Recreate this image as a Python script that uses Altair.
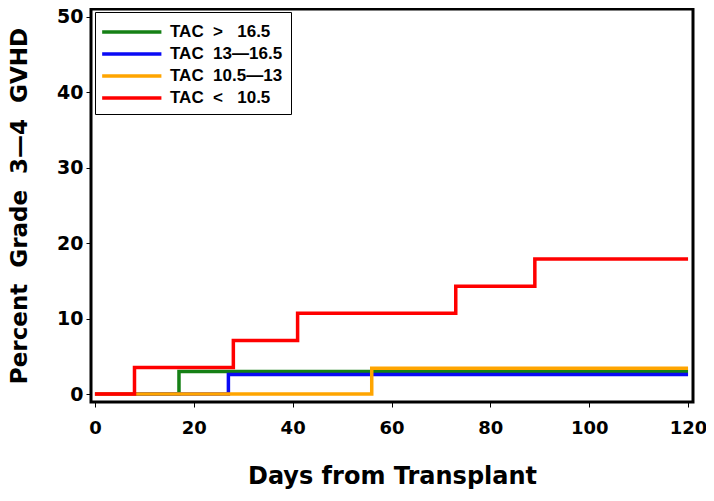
import altair as alt
import pandas as pd

NB = "\u00a0"

series_names = [
    f"TAC{NB}{NB}>{NB}{NB}{NB}16.5",
    f"TAC{NB}{NB}13\u201416.5",
    f"TAC{NB}{NB}10.5\u201413",
    f"TAC{NB}{NB}<{NB}{NB}{NB}10.5",
]
series_colors = ["#158015", "#0a0af5", "#ffa500", "#ff0000"]

green_days = [0, 17, 120]
green_pct = [0, 3.0, 3.0]
blue_days = [0, 27, 120]
blue_pct = [0, 2.6, 2.6]
orange_days = [0, 56, 120]
orange_pct = [0, 3.4, 3.4]
red_days = [0, 8, 28, 41, 73, 89, 120]
red_pct = [0, 3.5, 7.1, 10.7, 14.3, 17.9, 17.9]

x_ticks = [0, 20, 40, 60, 80, 100, 120]
y_ticks = [0, 10, 20, 30, 40, 50]

rows = []
for name, days, pct in zip(series_names,
                           [green_days, blue_days, orange_days, red_days],
                           [green_pct, blue_pct, orange_pct, red_pct]):
    for d, p in zip(days, pct):
        rows.append({"group": name, "day": d, "pct": p})
df = pd.DataFrame(rows)

FONT = "DejaVu Sans"

x_enc = alt.X("day:Q",
              scale=alt.Scale(domain=[-0.8, 121], nice=False, zero=False),
              axis=alt.Axis(values=x_ticks, title="Days from Transplant",
                            labelFontSize=18, labelPadding=12,
                            titleFontSize=24, titlePadding=27))
y_enc = alt.Y("pct:Q",
              scale=alt.Scale(domain=[-1.06, 51.06], nice=False, zero=False),
              axis=alt.Axis(values=y_ticks, title=f"Percent{NB}{NB}Grade{NB}{NB}3\u20144{NB}{NB}GVHD",
                            labelFontSize=19, labelPadding=3,
                            titleFontSize=23, titlePadding=25))
# custom path: a flat stroke, drawn to the right of the symbol's own box
color_enc = alt.Color("group:N",
                      scale=alt.Scale(domain=series_names, range=series_colors),
                      legend=alt.Legend(title=None, orient="none", legendX=4, legendY=3,
                                        symbolType="M-1.3,0H4.7", symbolSize=390,
                                        symbolStrokeWidth=3.5, rowPadding=2,
                                        labelFont="Liberation Sans", labelFontSize=17,
                                        labelFontWeight="bold", labelColor="black",
                                        labelOffset=43, padding=8,
                                        strokeColor="black", fillColor="white"))

layers = []
for name in series_names:
    layers.append(
        alt.Chart(df).transform_filter(alt.datum.group == name)
        .mark_line(interpolate="step-after", strokeWidth=3.5)
        .encode(x=x_enc, y=y_enc, color=color_enc)
    )

chart = alt.layer(*layers).properties(
    width=602, height=393,
    autosize=alt.AutoSizeParams(type="none"),
    padding={"left": 83, "top": 1, "right": 13, "bottom": 92},
).configure_view(
    stroke="black", strokeWidth=3
).configure_axis(
    grid=False, domain=False, ticks=True, tickColor="black", tickSize=5, tickWidth=1,
    labelFont=FONT, labelFontWeight="bold", labelColor="black",
    titleFont=FONT, titleFontWeight="bold", titleColor="black",
)

chart.save("out.html", embed_options={"renderer": "svg", "actions": False})
